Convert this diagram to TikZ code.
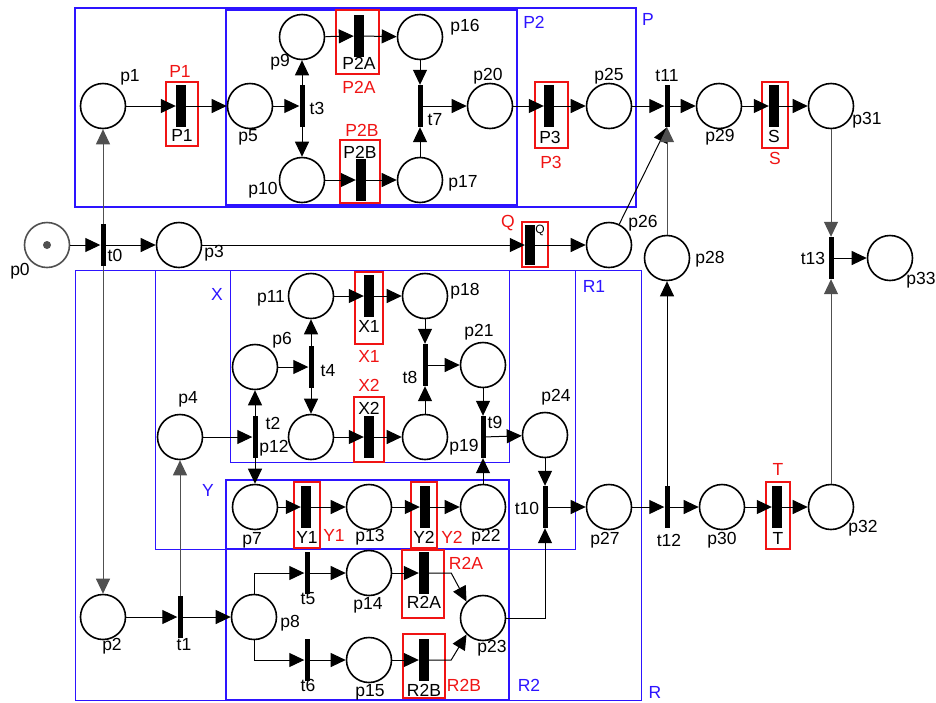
\documentclass[tikz,border=0pt]{standalone}
\usepackage{fontspec}
\setmainfont{Liberation Sans}
\usetikzlibrary{arrows.meta}
\definecolor{bl}{RGB}{45,20,255}
\definecolor{rd}{RGB}{240,20,20}
\definecolor{gr}{RGB}{80,80,80}
\begin{document}
\begin{tikzpicture}[x=1pt,y=-1pt,font=\fontsize{17.5}{20}\selectfont,
 pl/.style={circle,draw,line width=1.6pt,minimum size=45pt,inner sep=0pt},
 tb/.style={fill=black,inner sep=0pt,minimum width=5pt,minimum height=42pt},
 tw/.style={fill=black,inner sep=0pt,minimum width=10pt,minimum height=42pt},
 lb/.style={inner sep=0pt},
 rl/.style={text=rd,inner sep=0pt},
 bll/.style={text=bl,inner sep=0pt},
 arr/.style={-{Triangle[length=15pt,width=14pt]},line width=1pt},
 rf/.style={draw=rd,line width=1.3pt},
 bf/.style={draw=bl,line width=1pt}]
\useasboundingbox (0,0) rectangle (936,702);
\fill[white] (0,0) rectangle (936,702);
% blue frames
\draw[bf,line width=1.6pt] (75,8) rectangle (636,207);
\draw[bf,line width=1.6pt] (226,10) rectangle (517,205);
\draw[bf] (75,270) rectangle (641,700);
\draw[bf] (155,270) rectangle (575,549);
\draw[bf] (230,270) rectangle (509,462);
\draw[bf,line width=1.4pt] (226,480) rectangle (509,549);
\draw[bf,line width=1.4pt] (226,549) rectangle (509,700);
\node[bll] (lP) at (648,19) {P};
\node[bll] (lP2) at (534,22) {P2};
\node[bll] (lR) at (655,692) {R};
\node[bll] (lR1) at (594,286) {R1};
\node[bll] (lX) at (217,294) {X};
\node[bll] (lY) at (208,490) {Y};
\node[bll] (lR2) at (529,685) {R2};
% red frames
\draw[rf] (166,82) rectangle (198,146);
\draw[rf] (336,10) rectangle (379,74);
\draw[rf] (340,140) rectangle (380,203);
\draw[rf] (535,82) rectangle (568,148);
\draw[rf] (762,82) rectangle (788,148);
\draw[rf] (522,222) rectangle (548,267);
\draw[rf] (355,272) rectangle (383,344);
\draw[rf] (354,397) rectangle (384,462);
\draw[rf] (294,482) rectangle (320,548);
\draw[rf] (411,482) rectangle (437,548);
\draw[rf] (766,482) rectangle (790,549);
\draw[rf] (402,550) rectangle (444,618);
\draw[rf] (403,634) rectangle (445,698);
% places
\node[pl,draw=gr] (p0) at (47,245) {};
\fill[gr] (p0.center) circle (4pt);
\node[pl] (p1) at (103,106) {};
\node[pl] (p5) at (250,106) {};
\node[pl] (p9) at (302,37) {};
\node[pl] (p10) at (302,180) {};
\node[pl] (p16) at (420,37) {};
\node[pl] (p17) at (420,180) {};
\node[pl] (p20) at (490,106) {};
\node[pl] (p25) at (609,106) {};
\node[pl] (p29) at (719,106) {};
\node[pl] (p31) at (831,106) {};
\node[pl] (p3) at (179,245) {};
\node[pl] (p26) at (609,245) {};
\node[pl] (p28) at (667,258) {};
\node[pl] (p33) at (890,258) {};
\node[pl] (p4) at (180,437) {};
\node[pl] (p6) at (255,367) {};
\node[pl] (p11) at (311,296) {};
\node[pl] (p12) at (311,437) {};
\node[pl] (p18) at (425,296) {};
\node[pl] (p19) at (425,437) {};
\node[pl] (p21) at (483,365) {};
\node[pl] (p24) at (545,435) {};
\node[pl] (p7) at (255,507) {};
\node[pl] (p13) at (369,507) {};
\node[pl] (p22) at (483,507) {};
\node[pl] (p27) at (609,507) {};
\node[pl] (p30) at (722,507) {};
\node[pl] (p32) at (831,507) {};
\node[pl] (p2) at (103,617) {};
\node[pl] (p8) at (254,617) {};
\node[pl] (p14) at (369,573) {};
\node[pl] (p15) at (369,660) {};
\node[pl] (p23) at (483,618) {};
% thin transitions
\node[tb] (t0) at (103,245) {};
\node[tb] (t3) at (302,106) {};
\node[tb] (t7) at (420,106) {};
\node[tb] (t11) at (667,106) {};
\node[tb] (t13) at (831,258) {};
\node[tb] (t2) at (255,437) {};
\node[tb] (t4) at (311,367) {};
\node[tb] (t8) at (425,365) {};
\node[tb] (t9) at (483,437) {};
\node[tb] (t10) at (545,507) {};
\node[tb] (t12) at (667,507) {};
\node[tb] (t1) at (180,617) {};
\node[tb] (t5) at (307,573) {};
\node[tb] (t6) at (307,660) {};
% wide transitions
\node[tw] (P1) at (181,106) {};
\node[tw] (P2A) at (359,36) {};
\node[tw] (P2B) at (361,180) {};
\node[tw] (P3) at (549,106) {};
\node[tw] (S) at (774,106) {};
\node[tw,minimum height=40pt] (Q) at (530,245) {};
\node[tw] (X1) at (369,296) {};
\node[tw] (X2) at (369,437) {};
\node[tw] (Y1) at (306,507) {};
\node[tw] (Y2) at (425,507) {};
\node[tw] (T) at (777,507) {};
\node[tw] (R2A) at (424,573) {};
\node[tw] (R2B) at (424,660) {};
% labels of places
\node[lb] (lp0) at (20,271) {p0};
\node[lb] (lp1) at (130,77) {p1};
\node[lb] (lp5) at (248,137) {p5};
\node[lb] (lp9) at (280,62) {p9};
\node[lb] (lp10) at (263,190) {p10};
\node[lb] (lp16) at (465,27) {p16};
\node[lb] (lp17) at (463,183) {p17};
\node[lb] (lp20) at (488,76) {p20};
\node[lb] (lp25) at (609,76) {p25};
\node[lb] (lp29) at (720,137) {p29};
\node[lb] (lp31) at (867,120) {p31};
\node[lb] (lp3) at (214,253) {p3};
\node[lb] (lp26) at (643,223) {p26};
\node[lb] (lp28) at (710,259) {p28};
\node[lb] (lp33) at (921,280) {p33};
\node[lb] (lp4) at (188,399) {p4};
\node[lb] (lp6) at (282,340) {p6};
\node[lb] (lp11) at (271,298) {p11};
\node[lb] (lp12) at (274,448) {p12};
\node[lb] (lp18) at (465,291) {p18};
\node[lb] (lp19) at (464,447) {p19};
\node[lb] (lp21) at (479,332) {p21};
\node[lb] (lp24) at (556,397) {p24};
\node[lb] (lp7) at (252,540) {p7};
\node[lb] (lp13) at (370,537) {p13};
\node[lb] (lp22) at (486,537) {p22};
\node[lb] (lp27) at (605,540) {p27};
\node[lb] (lp30) at (722,540) {p30};
\node[lb] (lp32) at (863,528) {p32};
\node[lb] (lp2) at (112,646) {p2};
\node[lb] (lp8) at (290,623) {p8};
\node[lb] (lp14) at (368,605) {p14};
\node[lb] (lp15) at (370,692) {p15};
\node[lb] (lp23) at (492,648) {p23};
% labels of transitions
\node[lb] (lt0) at (115,255) {t0};
\node[lb] (lt3) at (317,108) {t3};
\node[lb] (lt7) at (435,120) {t7};
\node[lb] (lt11) at (667,76) {t11};
\node[lb] (lt13) at (813,258) {t13};
\node[lb] (lt2) at (273,423) {t2};
\node[lb] (lt4) at (328,371) {t4};
\node[lb] (lt8) at (410,377) {t8};
\node[lb] (lt9) at (495,422) {t9};
\node[lb] (lt10) at (527,508) {t10};
\node[lb] (lt12) at (669,540) {t12};
\node[lb] (lt1) at (184,645) {t1};
\node[lb] (lt5) at (308,599) {t5};
\node[lb] (lt6) at (308,685) {t6};
% black names inside red frames
\node[lb] (nP1) at (182,135) {P1};
\node[lb] (nP2A) at (359,63) {P2A};
\node[lb] (nP2B) at (360,152) {P2B};
\node[lb] (nP3) at (550,137) {P3};
\node[lb] (nS) at (774,136) {S};
\node[lb,font=\fontsize{12}{14}\selectfont] (nQ) at (540,230) {Q};
\node[lb] (nX1) at (369,326) {X1};
\node[lb] (nX2) at (369,408) {X2};
\node[lb] (nY1) at (307,537) {Y1};
\node[lb] (nY2) at (424,537) {Y2};
\node[lb] (nT) at (778,538) {T};
\node[lb] (nR2A) at (424,602) {R2A};
\node[lb] (nR2B) at (424,690) {R2B};
% red names
\node[rl] (rP1) at (180,71) {P1};
\node[rl] (rP2A) at (359,87) {P2A};
\node[rl] (rP2B) at (362,130) {P2B};
\node[rl] (rP3) at (551,162) {P3};
\node[rl] (rS) at (775,158) {S};
\node[rl] (rQ) at (508,223) {Q};
\node[rl] (rX1) at (369,356) {X1};
\node[rl] (rX2) at (369,385) {X2};
\node[rl] (rY1) at (334,535) {Y1};
\node[rl] (rY2) at (452,537) {Y2};
\node[rl] (rT) at (778,469) {T};
\node[rl] (rR2A) at (466,563) {R2A};
\node[rl] (rR2B) at (464,685) {R2B};
% arcs
\draw[arr] (p0) -- (t0);
\draw[arr] (t0) -- (p3);
\draw[arr,draw=gr] (t0) -- (p1);
\draw[arr,draw=gr] (t0) -- (p2);
\draw[arr] (p1) -- (P1);
\draw[arr] (P1) -- (p5);
\draw[arr] (p5) -- (t3);
\draw[arr] (t3) -- (p9);
\draw[arr] (t3) -- (p10);
\draw[arr] (p9) -- (P2A);
\draw[arr] (P2A) -- (p16);
\draw[arr] (p10) -- (P2B);
\draw[arr] (P2B) -- (p17);
\draw[arr] (p16) -- (t7);
\draw[arr] (p17) -- (t7);
\draw[arr] (t7) -- (p20);
\draw[arr] (p20) -- (P3);
\draw[arr] (P3) -- (p25);
\draw[arr] (p25) -- (t11);
\draw[arr] (t11) -- (p29);
\draw[arr] (p29) -- (S);
\draw[arr] (S) -- (p31);
\draw[arr] (p3) -- (Q);
\draw[arr] (Q) -- (p26);
\draw[arr] (p26) -- (t11.south);
\draw[arr,draw=gr] (p28) -- (t11);
\draw[arr,draw=gr] (p31) -- (t13);
\draw[arr] (t13) -- (p33);
\draw[arr,draw=gr] (p32) -- (t13);
\draw[arr] (t12) -- (p28);
\draw[arr] (p27) -- (t12);
\draw[arr] (t12) -- (p30);
\draw[arr] (p30) -- (T);
\draw[arr] (T) -- (p32);
\draw[arr] (t10) -- (p27);
\draw[arr] (p24) -- (t10);
\draw[arr] (t9) -- (p24);
\draw[arr] (p21) -- (t9);
\draw[arr] (p22) -- (t9);
\draw[arr] (t8) -- (p21);
\draw[arr] (p18) -- (t8);
\draw[arr] (p19) -- (t8);
\draw[arr] (p11) -- (X1);
\draw[arr] (X1) -- (p18);
\draw[arr] (p12) -- (X2);
\draw[arr] (X2) -- (p19);
\draw[arr] (t4) -- (p11);
\draw[arr] (t4) -- (p12);
\draw[arr] (p6) -- (t4);
\draw[arr] (t2) -- (p6);
\draw[arr] (t2) -- (p7);
\draw[arr] (p4) -- (t2);
\draw[arr] (p7) -- (Y1);
\draw[arr] (Y1) -- (p13);
\draw[arr] (p13) -- (Y2);
\draw[arr] (Y2) -- (p22);
\draw[arr] (p2) -- (t1);
\draw[arr] (t1) -- (p8);
\draw[arr,draw=gr] (t1) -- (p4);
\draw[arr] (p8.north) |- (t5);
\draw[arr] (p8.south) |- (t6);
\draw[arr] (t5) -- (p14);
\draw[arr] (t6) -- (p15);
\draw[arr] (p14) -- (R2A);
\draw[arr] (p15) -- (R2B);
\draw[arr] (R2A.east) -- ++(22,0) -- (p23.north west);
\draw[arr] (R2B.east) -- ++(22,0) -- (p23.south west);
\draw[arr] (p23.east) -| (t10.south);
\end{tikzpicture}
\end{document}
